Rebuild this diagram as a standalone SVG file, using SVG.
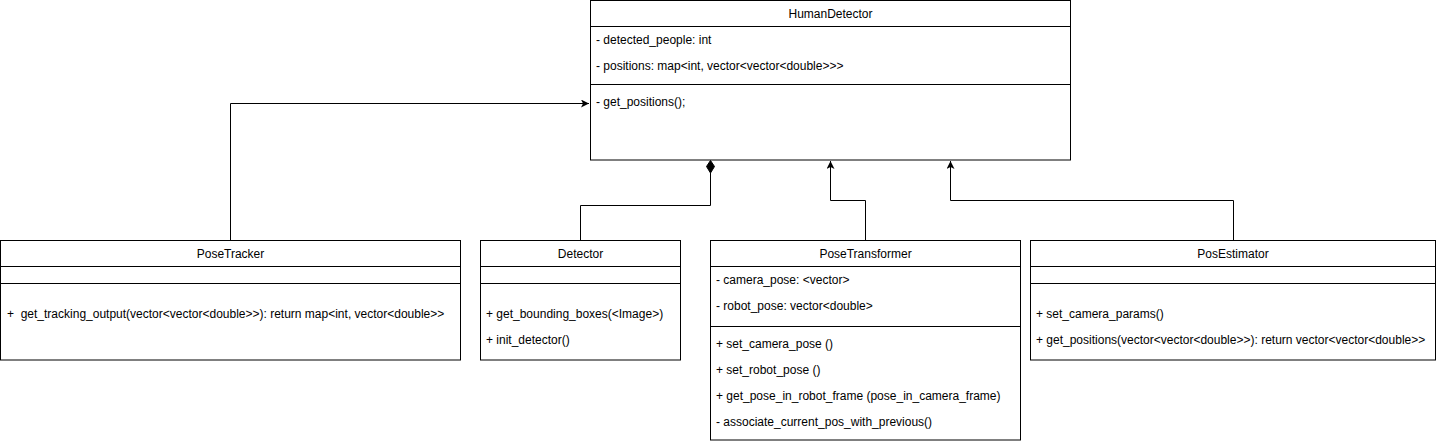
<svg xmlns="http://www.w3.org/2000/svg" width="1436" height="441" viewBox="0 0 1436 441">
<style>
.box{fill:#ffffff;stroke:#000000;stroke-width:1}
.sep{stroke:#000000;stroke-width:1;fill:none}
.t{font-family:"Liberation Sans",Arial,sans-serif;font-size:12px;fill:#000000}
.c{text-anchor:middle}
.edge{fill:none;stroke:#000000;stroke-width:1}
</style>
<defs>
<marker id="arr" viewBox="0 0 10 10" refX="10" refY="5" markerWidth="8" markerHeight="8" markerUnits="userSpaceOnUse" orient="auto">
<path d="M0,0 L10,5 L0,10 L2.5,5 Z" fill="#000000"/>
</marker>
</defs>
<rect width="1436" height="441" fill="#ffffff"/>
<g id="connectors">
<path class="edge" d="M230.5,240 L230.5,103.5 L589,103.5" marker-end="url(#arr)"/>
<path class="edge" d="M580.5,240 L580.5,205.5 L710.5,205.5 L710.5,173"/>
<path d="M710.5,160.5 L714.5,166.5 L710.5,173 L706.5,166.5 Z" fill="#000000" stroke="#000000" stroke-width="1"/>
<path class="edge" d="M865.5,240 L865.5,200.5 L830.5,200.5 L830.5,161" marker-end="url(#arr)"/>
<path class="edge" d="M1233.5,240 L1233.5,200.5 L950.5,200.5 L950.5,161" marker-end="url(#arr)"/>
</g>
<g id="HumanDetector">
<rect class="box" x="590.5" y="0.5" width="480" height="159.5"/>
<line class="sep" x1="590.5" y1="26.5" x2="1070.5" y2="26.5"/>
<line class="sep" x1="590.5" y1="84.5" x2="1070.5" y2="84.5"/>
<text class="t c" x="830.5" y="18">HumanDetector</text>
<text class="t" x="596" y="44">- detected_people: int</text>
<text class="t" x="596" y="70">- positions: map&lt;int, vector&lt;vector&lt;double&gt;&gt;&gt;</text>
<text class="t" x="596" y="106">- get_positions();</text>
</g>
<g id="PoseTracker">
<rect class="box" x="0.5" y="240.5" width="460" height="119.5"/>
<line class="sep" x1="0.5" y1="266.5" x2="460.5" y2="266.5"/>
<line class="sep" x1="0.5" y1="283.5" x2="460.5" y2="283.5"/>
<text class="t c" x="230.5" y="258">PoseTracker</text>
<text class="t" x="7" y="318" xml:space="preserve">+  get_tracking_output(vector&lt;vector&lt;double&gt;&gt;): return map&lt;int, vector&lt;double&gt;&gt;</text>
</g>
<g id="Detector">
<rect class="box" x="480.5" y="240.5" width="200" height="119.5"/>
<line class="sep" x1="480.5" y1="266.5" x2="680.5" y2="266.5"/>
<line class="sep" x1="480.5" y1="283.5" x2="680.5" y2="283.5"/>
<text class="t c" x="580.5" y="258">Detector</text>
<text class="t" x="486" y="318">+ get_bounding_boxes(&lt;Image&gt;)</text>
<text class="t" x="486" y="344">+ init_detector()</text>
</g>
<g id="PoseTransformer">
<rect class="box" x="710.5" y="240.5" width="310" height="199.5"/>
<line class="sep" x1="710.5" y1="266.5" x2="1020.5" y2="266.5"/>
<line class="sep" x1="710.5" y1="326.5" x2="1020.5" y2="326.5"/>
<text class="t c" x="865.5" y="258">PoseTransformer</text>
<text class="t" x="716" y="284">- camera_pose: &lt;vector&gt;</text>
<text class="t" x="716" y="310">- robot_pose: vector&lt;double&gt;</text>
<text class="t" x="716" y="348">+ set_camera_pose ()</text>
<text class="t" x="716" y="374">+ set_robot_pose ()</text>
<text class="t" x="716" y="400">+ get_pose_in_robot_frame (pose_in_camera_frame)</text>
<text class="t" x="716" y="426">- associate_current_pos_with_previous()</text>
</g>
<g id="PosEstimator">
<rect class="box" x="1030.5" y="240.5" width="405" height="119.5"/>
<line class="sep" x1="1030.5" y1="266.5" x2="1435.5" y2="266.5"/>
<line class="sep" x1="1030.5" y1="283.5" x2="1435.5" y2="283.5"/>
<text class="t c" x="1233" y="258">PosEstimator</text>
<text class="t" x="1036" y="318">+ set_camera_params()</text>
<text class="t" x="1036" y="344">+ get_positions(vector&lt;vector&lt;double&gt;&gt;): return vector&lt;vector&lt;double&gt;&gt;</text>
</g>
</svg>
